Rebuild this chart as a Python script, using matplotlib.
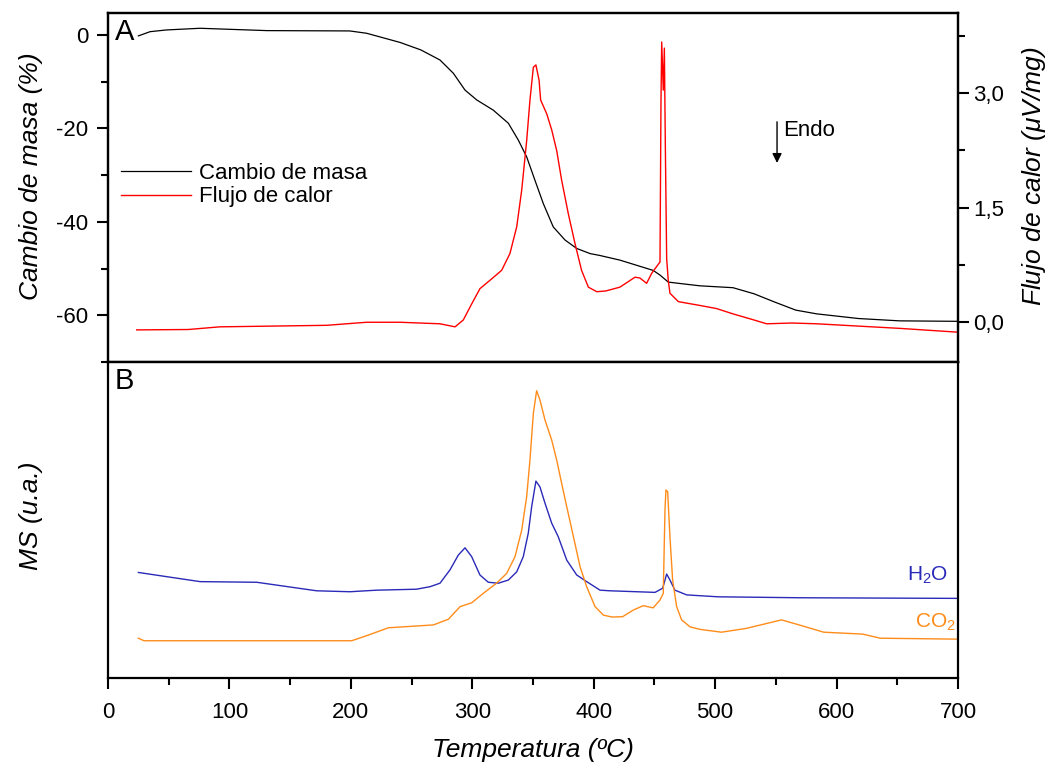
import matplotlib
matplotlib.use("Agg")
import matplotlib.pyplot as plt
from matplotlib.ticker import MultipleLocator, FuncFormatter

plt.rcParams['font.family'] = ['Liberation Sans', 'DejaVu Sans']
plt.rcParams['mathtext.fontset'] = 'custom'
plt.rcParams['mathtext.rm'] = 'Liberation Sans'
plt.rcParams['mathtext.it'] = 'Liberation Sans:italic'
plt.rcParams['axes.unicode_minus'] = False

# mass change (%) vs temperature
mass_t = [25, 34.6, 48, 75.8, 130.7, 199, 213, 240.5, 257.6, 273.4, 284.4, 294, 303.6, 317.3,
          329.7, 337.9, 344.8, 351.6, 358.5, 366.7, 376.4, 386, 397, 405, 421.6, 449, 454.6,
          461.4, 471, 487.5, 514.7, 532, 549.3, 566.4, 583.6, 618, 652, 700]
mass_v = [-0.2, 0.7, 1.07, 1.43, 0.93, 0.86, 0.36, -1.6, -3.2, -5.36, -8.2, -11.8, -13.9, -16.1,
          -18.9, -22.5, -26.1, -31.1, -36.1, -41.1, -43.9, -45.7, -46.8, -47.2, -48.2, -50.4, -51.4,
          -52.9, -53.2, -53.7, -54.1, -55.4, -57.2, -58.9, -59.7, -60.7, -61.2, -61.3]

# heat flow (uV/mg) vs temperature
heat_t = [23.6, 66, 92, 180, 213, 240.5, 273.4, 285.8, 292.6, 299.5, 306.3, 314.6, 324.2, 331,
          336.6, 340.7, 344.8, 347.5, 350.3, 352.4, 355, 356.3, 361.3, 365.4, 369.5, 373.6,
          379.1, 384.6, 390, 395.6, 402.5, 410, 421.6, 434, 438, 443.6, 447.7, 454.6, 455.4,
          456, 457.3, 458.2, 459, 460.1, 461.4, 462.8, 469.7, 487.5, 501, 514.7, 532, 542.4,
          563, 583.6, 617.7, 652, 700]
heat_v = [-0.10, -0.095, -0.06, -0.04, 0.0, 0.0, -0.02, -0.06, 0.03, 0.24, 0.44, 0.55, 0.68, 0.90,
          1.25, 1.73, 2.38, 2.91, 3.34, 3.37, 3.17, 2.91, 2.73, 2.52, 2.25, 1.86,
          1.42, 1.03, 0.68, 0.46, 0.40, 0.41, 0.46, 0.59, 0.58, 0.51, 0.64, 0.79, 2.87,
          3.67, 3.04, 3.59, 2.30, 0.83, 0.55, 0.38, 0.27, 0.22, 0.18, 0.11, 0.03, -0.02,
          -0.01, -0.02, -0.05, -0.08, -0.13]

# MS signals (arbitrary units)
h2o_t = [25, 75.8, 122.4, 171.8, 199.3, 221.3, 254, 265.2, 273.4, 281.6, 288.5, 294, 299.5,
         306.3, 313.2, 321.4, 329.7, 336.6, 342, 346.1, 348.9, 352.4, 355.7, 359.9, 365.4,
         370.8, 377.8, 386, 394.2, 405.2, 413.4, 450.5, 456.8, 460.1, 462.8, 466.9, 476.6,
         502.3, 569.2, 700]
h2o_v = [33.4, 30.5, 30.3, 27.6, 27.3, 27.8, 28.1, 28.9, 30, 34.2, 38.9, 41.2, 38.4,
         32.6, 30.3, 30, 31, 33.6, 38.4, 45.8, 54.2, 62.3, 60.5, 55.3, 49,
         44.7, 37.3, 32.6, 30.5, 27.8, 27.6, 27.1, 28.4, 32.9, 31, 27.8, 26.3,
         25.7, 25.4, 25.2]

co2_t = [25, 29.6, 200.7, 213, 230.9, 268, 280.3, 290, 299.5, 309.1, 320, 328.3, 335.2, 340.7,
         344.8, 347.5, 350.3, 353, 355.7, 359.9, 365.4, 369.5, 373.6, 377.8, 383.3, 388.8,
         394.2, 401.1, 408, 415, 423.8, 432.6, 440.8, 449, 454.6, 457.3, 458.7, 459.5, 460.9,
         462.8, 465, 468.3, 472.4, 479.3, 487.5, 505.2, 525.6, 554.7, 569.2, 589.5, 621.5,
         636, 700]
co2_v = [12.6, 11.8, 11.8, 13.4, 15.9, 16.8, 18.6, 22.6, 23.8, 26.8, 30, 33.1, 38.4, 46.8,
         57.4, 69, 83.8, 90.9, 88, 81.6, 75.3, 69, 61.6, 54.2, 44.7, 35.2,
         28.9, 22.6, 19.9, 19.3, 19.4, 21.5, 22.9, 22.2, 24.7, 26.8, 53.2, 59.5, 59,
         44.7, 31, 22.6, 18.4, 16.2, 15.4, 14.5, 15.7, 18.4, 16.8, 14.5, 13.9,
         12.6, 12.3]

fig = plt.figure(figsize=(10.52, 7.69), dpi=100)
ax1 = fig.add_axes([0.1027, 0.5293, 0.8079, 0.4538])
ax3 = fig.add_axes([0.1027, 0.1183, 0.8079, 0.4110])
ax2 = ax1.twinx()

for ax in (ax1, ax2, ax3):
    for s in ax.spines.values():
        s.set_linewidth(1.6)

l1, = ax1.plot(mass_t, mass_v, color='black', lw=0.9, label='Cambio de masa')
l2, = ax2.plot(heat_t, heat_v, color='#ff0000', lw=1.0, label='Flujo de calor')

ax1.set_xlim(0, 700)
ax1.set_ylim(-70, 4.7)
ax2.set_ylim(-0.52, 4.05)
ax1.yaxis.set_major_locator(MultipleLocator(20))
ax1.yaxis.set_minor_locator(MultipleLocator(10))
ax2.yaxis.set_major_locator(MultipleLocator(1.5))
ax2.yaxis.set_minor_locator(MultipleLocator(0.75))
ax2.yaxis.set_major_formatter(FuncFormatter(lambda v, p: ('%.1f' % v).replace('.', ',')))
ax1.xaxis.set_major_locator(MultipleLocator(100))
ax1.xaxis.set_minor_locator(MultipleLocator(50))
ax1.tick_params(axis='x', which='both', direction='out', labelbottom=False, width=1.5)
ax1.tick_params(axis='x', which='major', length=8)
ax1.tick_params(axis='x', which='minor', length=5)
ax1.tick_params(axis='y', which='both', direction='out', labelsize=16, width=1.5, pad=6)
ax1.tick_params(axis='y', which='major', length=8)
ax1.tick_params(axis='y', which='minor', length=5)
ax2.tick_params(axis='y', which='both', direction='out', labelsize=16, width=1.5, pad=3)
ax2.tick_params(axis='y', which='major', length=8)
ax2.tick_params(axis='y', which='minor', length=5)

ax1.set_ylabel('Cambio de masa (%)', fontsize=19, style='italic')
ax1.yaxis.set_label_coords(-0.076, 0.532)
ax2.set_ylabel('Flujo de calor ($\\mu$V/mg)', fontsize=19, style='italic')
ax2.yaxis.set_label_coords(1.073, 0.532)

ax1.legend(handles=[l1, l2], loc='center left', bbox_to_anchor=(0.0, 0.506), frameon=False,
           fontsize=16, handlelength=3.15, handletextpad=0.36, labelspacing=0.1,
           borderaxespad=0.2)

ax1.text(0.008, 0.985, 'A', transform=ax1.transAxes, fontsize=21, va='top', ha='left')
ax1.annotate('', xy=(551, -28), xytext=(551, -18),
             arrowprops=dict(arrowstyle='-|>', color='black', lw=1.0, mutation_scale=14))
ax1.text(556, -20.4, 'Endo', fontsize=16, ha='left', va='center')

# bottom panel
ax3.plot(h2o_t, h2o_v, color='#2a2ab8', lw=1.0)
ax3.plot(co2_t, co2_v, color='#ff8c1a', lw=1.0)
ax3.set_xlim(0, 700)
ax3.set_ylim(0, 100)
ax3.set_yticks([])
ax3.xaxis.set_major_locator(MultipleLocator(100))
ax3.xaxis.set_minor_locator(MultipleLocator(50))
ax3.tick_params(axis='x', which='both', direction='out', labelsize=16, width=1.5, pad=9.5)
ax3.tick_params(axis='x', which='major', length=8)
ax3.tick_params(axis='x', which='minor', length=5)
ax3.set_xlabel('Temperatura (ºC)', fontsize=19, style='italic')
ax3.xaxis.set_label_coords(0.5, -0.19)
ax3.set_ylabel('MS (u.a.)', fontsize=19, style='italic')
ax3.yaxis.set_label_coords(-0.076, 0.513)
ax3.text(0.008, 0.985, 'B', transform=ax3.transAxes, fontsize=21, va='top', ha='left')
ax3.text(692, 32.6, 'H$_2$O', color='#2a2ab8', fontsize=15, ha='right', va='center')
ax3.text(698, 17.7, 'CO$_2$', color='#ff8c1a', fontsize=15, ha='right', va='center')

fig.savefig('out.png', dpi=100)
